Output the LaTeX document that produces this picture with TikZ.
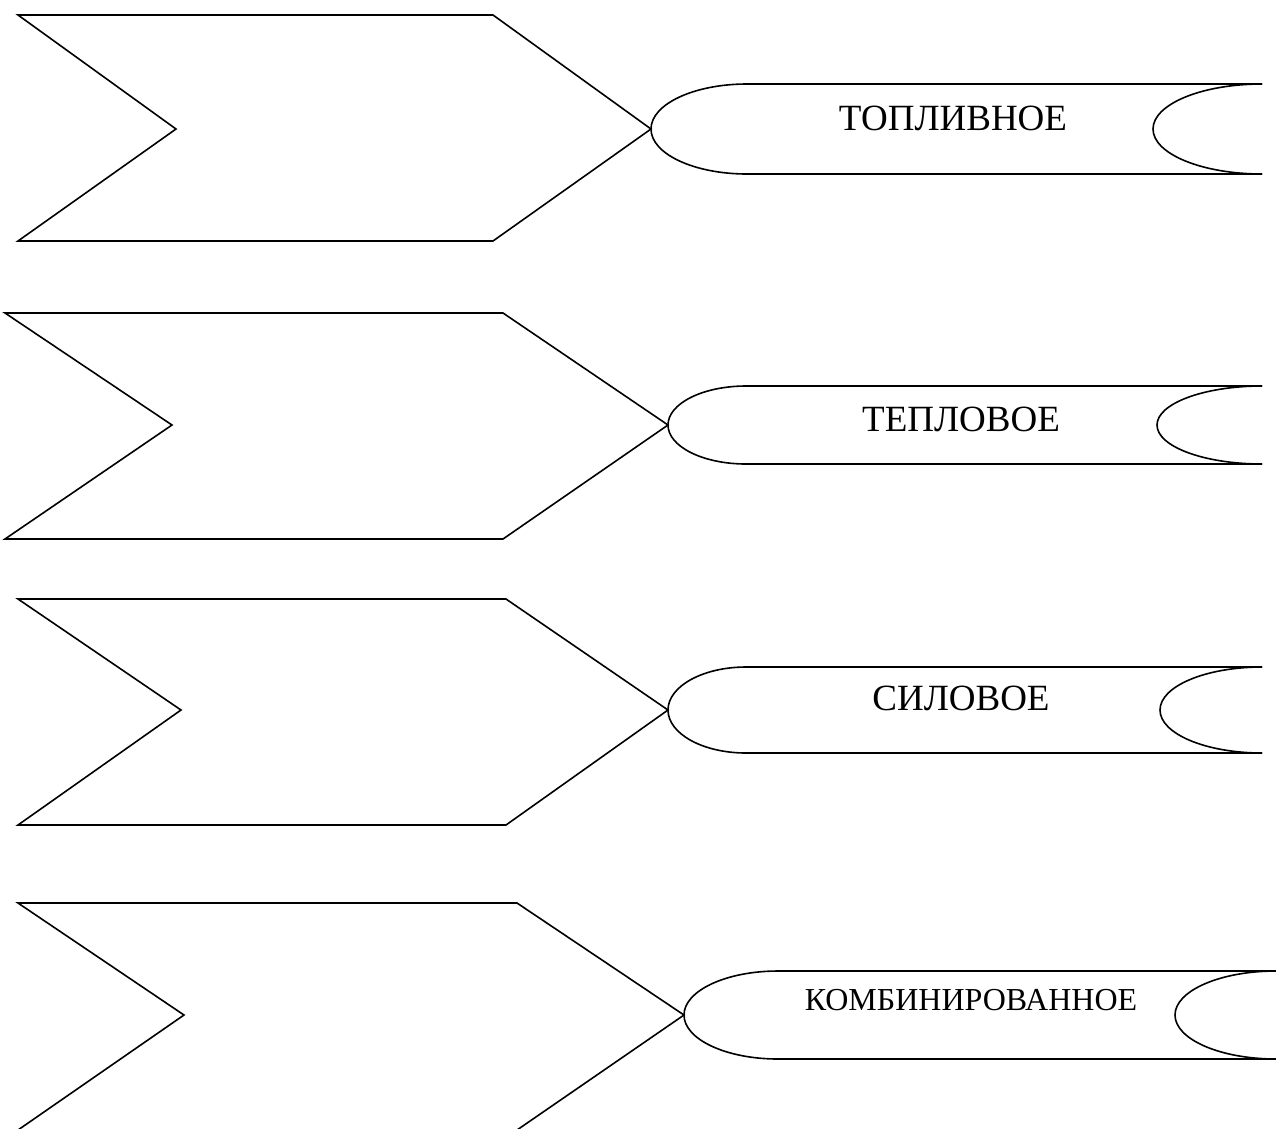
\documentclass[tikz,border=0pt]{standalone}
\usepackage{fontspec}
\setmainfont{Liberation Serif}
\tikzset{
  shapeline/.style={draw=black, line width=1.6pt, line join=miter},
  labeltext/.style={anchor=base, inner sep=0pt, text=black}
}
\begin{document}
\begin{tikzpicture}[x=1pt,y=-1pt]
\useasboundingbox (0,0) rectangle (1276,1128);
\clip (0,0) rectangle (1276,1128);
\foreach \i/\tlx/\ty/\by/\nx/\cy/\trx/\tipx/\half/\lrx/\R/\rrx/\txx/\txy/\fs/\lab in {
  1/18/15/241/176/129/493/651/45/96/1262/109/953/130/37/ТОПЛИВНОЕ,
  2/5/313/539/172/425/503/668/39/78/1262/105/961/431/37/ТЕПЛОВОЕ,
  3/18/599/825/181/710/506/668/43/78/1262/102/961/710/37/СИЛОВОЕ,
  4/18/903/1130/184/1015/517/684/44/94/1276/101/971/1010/32/КОМБИНИРОВАННОЕ}
{
  \coordinate (tl\i) at (\tlx,\ty);
  \coordinate (bl\i) at (\tlx,\by);
  \coordinate (notch\i) at (\nx,\cy);
  \coordinate (tr\i) at (\trx,\ty);
  \coordinate (br\i) at (\trx,\by);
  \coordinate (tip\i) at (\tipx,\cy);
  \pgfmathsetmacro{\stop}{\cy-\half}
  \pgfmathsetmacro{\sbot}{\cy+\half}
  \pgfmathsetmacro{\sx}{\tipx+\lrx}
  \coordinate (st\i) at (\sx,\stop);
  \coordinate (sb\i) at (\sx,\sbot);
  \coordinate (et\i) at (\R,\stop);
  \coordinate (eb\i) at (\R,\sbot);
  % chevron
  \draw[shapeline] (tl\i) -- (tr\i) -- (tip\i) -- (br\i) -- (bl\i) -- (notch\i) -- cycle;
  % scroll
  \draw[shapeline] (et\i) -- (st\i)
     arc[start angle=90, end angle=270, x radius=\lrx pt, y radius=\half pt]
     -- (eb\i);
  \draw[shapeline] (et\i)
     arc[start angle=90, end angle=270, x radius=\rrx pt, y radius=\half pt];
  \node[labeltext, font=\fontsize{\fs}{\fs}\selectfont] (lab\i) at (\txx,\txy) {\lab};
}
\end{tikzpicture}
\end{document}
